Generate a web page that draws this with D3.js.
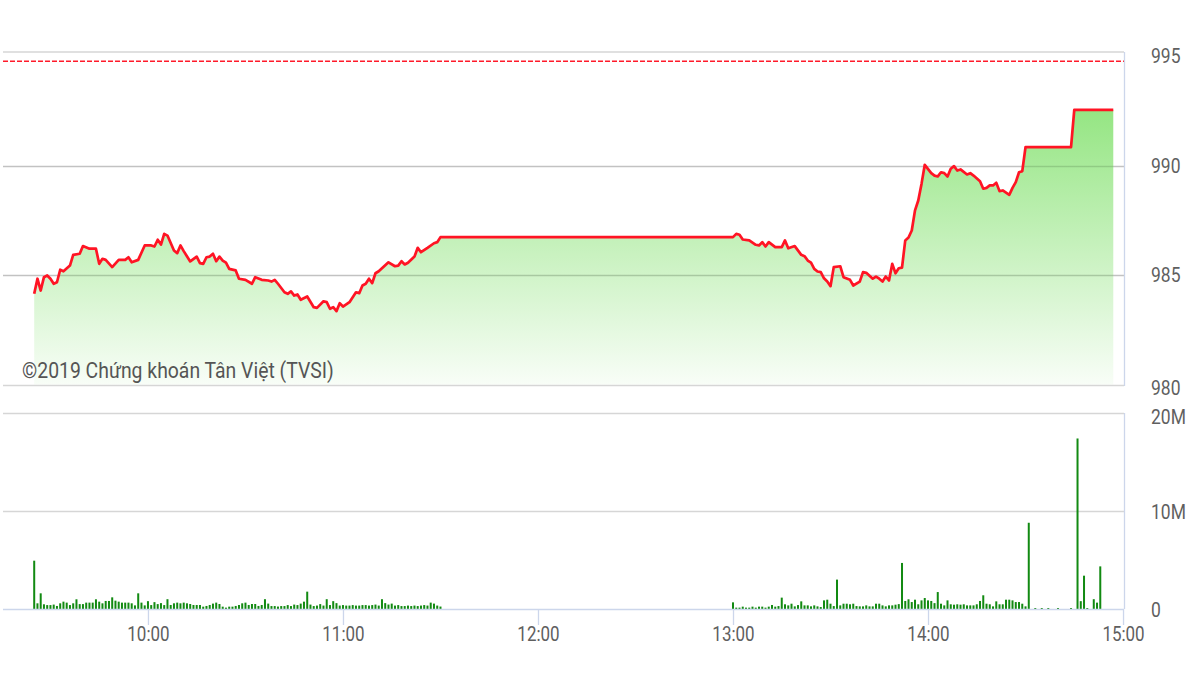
<!DOCTYPE html>
<html><head><meta charset="utf-8">
<script src="https://cdn.jsdelivr.net/npm/d3@7"></script>
<style>body{margin:0;background:#fff} svg{display:block} text{font-family:Roboto,"Liberation Sans",sans-serif}</style>
</head><body><svg id="c" width="1200" height="674"></svg>
<script>
// ---------- DATA ----------
const priceTimes = ["9:25","9:26","9:27","9:28","9:29","9:30","9:31","9:32","9:33","9:34","9:36","9:37","9:39","9:40","9:42","9:44","9:45","9:46","9:47","9:49","9:51","9:53","9:54","9:55","9:57","9:59",
"10:01","10:02","10:03","10:04","10:05","10:06","10:08","10:09","10:10","10:11","10:13","10:15","10:16","10:17","10:18","10:19","10:20","10:21","10:22","10:23","10:24","10:25","10:27","10:28","10:30","10:32","10:33","10:35","10:37","10:38","10:39","10:40","10:42","10:43","10:44","10:45","10:46","10:47","10:49","10:51","10:52","10:54","10:55","10:56","10:57","10:58","10:59",
"11:00","11:02","11:04","11:05","11:06","11:07","11:08","11:09","11:10","11:11","11:12","11:14","11:16","11:17","11:18","11:19","11:20","11:22","11:23","11:24","11:26","11:28","11:29","11:30",
"13:00","13:01","13:02","13:03","13:05","13:07","13:08","13:09","13:10","13:11","13:13","13:15","13:16","13:17","13:19","13:21","13:22","13:23","13:24","13:25","13:26","13:27","13:28","13:29","13:30","13:31","13:33","13:34","13:36","13:37","13:39","13:40","13:41","13:43","13:44","13:45","13:46","13:47","13:48","13:49","13:50","13:51","13:52","13:53","13:54","13:55","13:56","13:57","13:58","13:59",
"14:01","14:02","14:03","14:04","14:05","14:06","14:07","14:08","14:09","14:10","14:12","14:13","14:14","14:16","14:17","14:18","14:19","14:20","14:21","14:22","14:23","14:25","14:26","14:27","14:28","14:29","14:30","14:44","14:45","14:57"];
const priceValues = [984.14,984.83,984.29,984.90,984.98,984.83,984.60,984.67,985.24,985.17,985.43,985.92,985.97,986.32,986.20,986.20,985.51,985.74,985.69,985.36,985.69,985.69,985.81,985.58,985.69,986.35,
986.35,986.30,986.61,986.39,986.88,986.80,986.12,986.00,986.35,986.09,985.62,985.84,985.54,985.51,985.81,985.84,985.97,985.63,985.84,985.66,985.56,985.28,985.21,984.83,984.78,984.60,984.90,984.78,984.75,984.70,984.78,984.60,984.21,984.14,984.25,984.06,984.11,983.87,984.02,983.53,983.50,983.80,983.76,983.46,983.53,983.35,983.71,
983.56,983.76,984.21,984.17,984.52,984.60,984.83,984.63,985.08,985.17,985.31,985.58,985.40,985.43,985.63,985.48,985.56,985.84,986.24,986.04,986.24,986.45,986.50,986.73,
986.73,986.88,986.84,986.62,986.58,986.38,986.35,986.50,986.30,986.50,986.27,986.27,986.58,986.22,986.32,985.92,985.86,985.66,985.56,985.28,985.16,985.13,984.85,984.70,984.49,985.36,985.40,984.90,984.78,984.52,984.70,985.13,985.10,984.83,984.93,984.83,984.70,984.93,984.75,985.51,985.08,985.31,985.34,986.58,986.71,987.03,987.95,988.40,989.16,990.03,
989.65,989.54,989.50,989.69,989.65,989.50,989.85,989.97,989.77,989.82,989.59,989.65,989.54,989.28,988.94,988.98,989.09,989.09,989.21,988.83,988.86,988.66,988.98,989.24,989.69,989.74,990.84,990.84,992.54,992.54];
const refPrice = 994.76;

// volume in millions, one bar per minute from the start time
const volMorningStart = "9:25";
const volMorning = [4.93,0.58,1.6,0.48,0.4,0.4,0.45,0.31,0.58,0.75,
0.65,0.4,0.58,0.99,0.5,0.5,0.65,0.65,0.65,0.99,
0.75,0.58,0.82,0.82,1.19,0.85,0.75,0.65,0.65,0.65,
0.58,0.37,1.6,0.65,0.37,0.8,0.4,0.7,0.5,0.6,
0.4,1.0,
0.41,0.58,0.65,0.58,0.65,0.58,0.51,0.41,0.41,0.41,0.24,0.31,0.41,0.55,0.65,0.51,0.24,0.14,0.24,0.24,0.31,0.41,0.58,0.65,0.41,0.51,0.51,0.31,0.41,
1.0,
0.55,0.3,0.3,0.25,0.3,0.3,0.4,0.3,0.45,0.4,0.55,0.75,
1.77,
0.45,0.3,0.35,0.5,0.35,
1.0,0.4,0.8,0.6,
0.35,0.4,0.35,0.35,0.4,0.35,0.35,0.4,0.4,0.35,0.4,0.45,0.35,
1.0,
0.6,0.45,0.55,0.35,0.4,0.3,0.3,0.35,0.3,0.35,0.3,0.35,0.4,0.35,
0.65,0.55,0.35,0.25];
const volAfternoonStart = "13:00";
const volAfternoon = [0.68,
0.14,0.14,0.24,0.14,0.14,0.24,0.14,0.24,0.24,0.14,0.24,0.41,0.24,0.3,
1.16,
0.48,0.37,0.54,0.27,0.4,0.78,0.37,0.37,0.27,0.37,0.27,0.2,0.88,0.95,0.54,0.3,
3.0,
0.37,0.54,0.54,0.48,0.54,0.3,0.27,0.27,0.37,0.27,0.27,0.54,0.54,0.37,0.27,0.37,0.37,0.44,0.5,
4.7,
0.82,0.99,0.71,0.95,0.48,0.88,1.12,0.88,0.82,0.6,1.73,
0.54,0.37,0.88,0.48,0.44,0.48,0.44,0.48,0.37,0.37,0.37,0.48,0.82,1.4,
0.54,0.48,0.27,0.78,0.48,0.48,0.95,0.95,0.88,0.71,0.71,0.54,0.27,8.8];
const volTailTimes = ["14:33","14:35","14:37","14:40","14:44","14:46","14:47","14:48","14:49","14:51","14:52","14:53"];
const volTailValues = [0.1,0.1,0.1,0.1,0.1,17.4,0.8,3.4,0.1,1.0,0.65,4.35];

const priceTicks = [980,985,990,995];
const volTicks = [0,10,20];
const volTickLabels = ["0","10M","20M"];
const timeTicks = ["10:00","11:00","12:00","13:00","14:00","15:00"];
const watermark = "©2019 Chứng khoán Tân Việt (TVSI)";

// ---------- DRAW ----------
const parse = s => { const [h,m] = s.split(":").map(Number); return new Date(2019,0,2,h,m); };
const addMin = (d,k) => new Date(d.getTime() + k*60000);

const price = priceTimes.map((t,i) => ({t: parse(t), v: priceValues[i]}));
const vols = [];
volMorning.forEach((v,i) => vols.push({t: addMin(parse(volMorningStart), i), v}));
volAfternoon.forEach((v,i) => vols.push({t: addMin(parse(volAfternoonStart), i), v}));
volTailTimes.forEach((t,i) => vols.push({t: parse(t), v: volTailValues[i]}));

const L = 3, R = 1124;
const x = d3.scaleTime().domain([new Date(2019,0,2,9,15,24), new Date(2019,0,2,15,0,18)]).range([L, R]);
const yP = d3.scaleLinear().domain([980,995]).range([384.5,56]);
const yV = d3.scaleLinear().domain([0,20]).range([609,413]);
const SY = 1.15; // vertical stretch of the label glyphs

const svg = d3.select("#c");
const defs = svg.append("defs");
const g = defs.append("linearGradient").attr("id","fillG").attr("gradientUnits","userSpaceOnUse")
  .attr("x1",0).attr("x2",0).attr("y1",100).attr("y2",yP(980));
g.append("stop").attr("offset",0).attr("stop-color","#8fe47c").attr("stop-opacity",0.98);
g.append("stop").attr("offset",1).attr("stop-color","#8fe47c").attr("stop-opacity",0.06);

const gridC = "#d6d6d6", axisC = "#ccd6eb", labelC = "#5f5f5f";
// price grid
svg.append("line").attr("x1",L).attr("x2",R).attr("y1",52).attr("y2",52).attr("stroke",gridC).attr("stroke-width",1.3);
svg.selectAll(".pg").data([985,990]).enter().append("line")
  .attr("x1",L).attr("x2",R).attr("y1",d=>Math.round(yP(d))+0.5).attr("y2",d=>Math.round(yP(d))+0.5).attr("stroke",gridC).attr("stroke-width",1.3);
svg.append("line").attr("x1",L).attr("x2",R).attr("y1",385.5).attr("y2",385.5).attr("stroke",gridC).attr("stroke-width",1.3);

// area + line
svg.append("path").datum(price)
  .attr("d", d3.area().x(d=>x(d.t)).y0(yP(980)).y1(d=>yP(d.v)))
  .attr("fill","url(#fillG)");
svg.selectAll(".pg2").data([985,990]).enter().append("line")
  .attr("x1",L).attr("x2",R).attr("y1",d=>Math.round(yP(d))+0.5).attr("y2",d=>Math.round(yP(d))+0.5)
  .attr("stroke","#000").attr("stroke-opacity",0.09).attr("stroke-width",1.3);
svg.append("path").datum(price)
  .attr("d", d3.line().x(d=>x(d.t)).y(d=>yP(d.v)))
  .attr("fill","none").attr("stroke","#ff1424").attr("stroke-width",2.7).attr("stroke-linejoin","round");

// reference dashed line
svg.append("line").attr("x1",L).attr("x2",R).attr("y1",yP(refPrice)).attr("y2",yP(refPrice))
  .attr("stroke","#ff1a2a").attr("stroke-width",1.3).attr("stroke-dasharray","5,2");

// price right border
svg.append("line").attr("x1",R+0.5).attr("x2",R+0.5).attr("y1",52).attr("y2",386).attr("stroke",axisC).attr("stroke-width",1.3);

// price labels
svg.selectAll(".pl").data(priceTicks).enter().append("text")
  .attr("transform",d=>`translate(1151,${yP(d) + (d===980?3:0)}) scale(1,${SY})`).attr("dy","0.35em")
  .attr("fill",labelC).attr("font-size",17.5).text(d=>d);

// watermark
svg.append("text").attr("transform",`translate(22,378) scale(1,${SY})`).attr("fill","#555").attr("font-size",19.4).text(watermark);

// volume grid
svg.selectAll(".vg").data([10,20]).enter().append("line")
  .attr("x1",L).attr("x2",R).attr("y1",d=>Math.round(yV(d))+0.5).attr("y2",d=>Math.round(yV(d))+0.5).attr("stroke",gridC).attr("stroke-width",1.3);
svg.append("line").attr("x1",R+0.5).attr("x2",R+0.5).attr("y1",413).attr("y2",609).attr("stroke",axisC).attr("stroke-width",1.3);

// volume bars
svg.selectAll(".vb").data(vols).enter().append("rect")
  .attr("x",d=>x(d.t)-1).attr("width",2)
  .attr("y",d=>yV(d.v)).attr("height",d=>yV(0)-yV(d.v))
  .attr("fill","#128a12");

// x axis
const xAxis = d3.axisBottom(x).tickValues(timeTicks.map(parse)).tickSize(16).tickPadding(5)
  .tickFormat(d3.timeFormat("%H:%M"));
const ax = svg.append("g").attr("transform","translate(0,609)").call(xAxis);
ax.select(".domain").remove();
ax.selectAll(".tick line").attr("stroke",axisC).attr("stroke-width",1.3);
ax.selectAll(".tick text").attr("fill",labelC).attr("font-size",17).attr("font-family","Roboto")
  .attr("y",0).attr("dy",0).attr("transform",`translate(0,32) scale(1,${SY})`);
svg.append("line").attr("x1",L).attr("x2",R).attr("y1",609.5).attr("y2",609.5).attr("stroke",axisC).attr("stroke-width",1.3);

// volume labels
svg.selectAll(".vl").data(volTicks).enter().append("text")
  .attr("transform",(d,i)=>`translate(1151,${yV(d) + (d===20?4:1)}) scale(1,${SY})`).attr("dy","0.35em")
  .attr("fill",labelC).attr("font-size",17.5).text((d,i)=>volTickLabels[i]);
</script></body></html>
